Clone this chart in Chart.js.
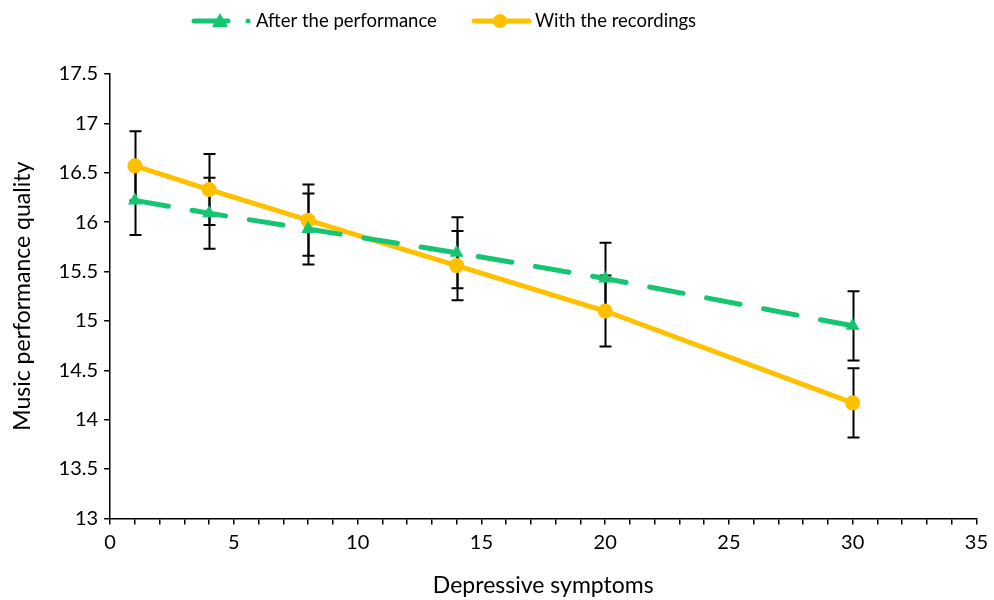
<!DOCTYPE html>
<html>
<head>
<meta charset="utf-8">
<script src="https://cdn.jsdelivr.net/npm/chart.js@4.4.1/dist/chart.umd.min.js"></script>
<style>
  html, body { margin: 0; padding: 0; background: #fff; }
  #wrap { width: 994px; height: 600px; position: relative; }
</style>
</head>
<body>
<div id="wrap"><canvas id="qualityChart" width="994" height="600"></canvas></div>
<script>
// values
var symptoms = [1, 4, 8, 14, 20, 30];
var afterPerformance = [16.22, 16.09, 15.93, 15.69, 15.43, 14.95];
var afterPerformanceErr = [0.35, 0.36, 0.36, 0.36, 0.36, 0.35];
var withRecordings = [16.57, 16.33, 16.02, 15.56, 15.10, 14.17];
var withRecordingsErr = [0.35, 0.36, 0.36, 0.35, 0.36, 0.35];
var seriesNames = ['After the performance', 'With the recordings'];

var GREEN = '#15C572';
var GOLD = '#FFC000';
var FONT = 'Lato, "Open Sans", sans-serif';

function toPoints(ys) {
    return symptoms.map(function (x, i) { return { x: x, y: ys[i] }; });
}

// error bars go under the markers, like the original
var errorBars = {
    id: 'errorBars',
    beforeDatasetsDraw: function (chart) {
        var ctx = chart.ctx;
        var xs = chart.scales.x, ys = chart.scales.y;
        ctx.save();
        ctx.strokeStyle = '#000';
        ctx.lineWidth = 2;
        chart.data.datasets.forEach(function (ds) {
            ds.data.forEach(function (p, i) {
                var px = Math.round(xs.getPixelForValue(p.x)) + 0.5;
                var top = ys.getPixelForValue(p.y + ds.errors[i]);
                var bot = ys.getPixelForValue(p.y - ds.errors[i]);
                ctx.beginPath();
                ctx.moveTo(px, top); ctx.lineTo(px, bot);
                ctx.moveTo(px - 6, top); ctx.lineTo(px + 6, top);
                ctx.moveTo(px - 6, bot); ctx.lineTo(px + 6, bot);
                ctx.stroke();
            });
        });
        ctx.restore();
    }
};

// legend drawn by hand: line sample with its marker
var lineLegend = {
    id: 'lineLegend',
    afterDraw: function (chart) {
        var ctx = chart.ctx;
        var y = 21;
        ctx.save();
        // green dashed sample
        ctx.strokeStyle = GREEN;
        ctx.lineWidth = 5;
        ctx.lineCap = 'round';
        ctx.beginPath(); ctx.moveTo(194, y); ctx.lineTo(228, y); ctx.stroke();
        ctx.beginPath(); ctx.arc(248, y, 2.5, 0, Math.PI * 2); ctx.fillStyle = GREEN; ctx.fill();
        ctx.beginPath();
        ctx.moveTo(220, y - 8); ctx.lineTo(228, y + 6); ctx.lineTo(212, y + 6); ctx.closePath();
        ctx.fill();
        // gold solid sample
        ctx.strokeStyle = GOLD;
        ctx.beginPath(); ctx.moveTo(474, y); ctx.lineTo(529, y); ctx.stroke();
        ctx.fillStyle = GOLD;
        ctx.beginPath(); ctx.arc(500, y, 7, 0, Math.PI * 2); ctx.fill();
        ctx.fillStyle = '#000';
        ctx.font = '18.5px ' + FONT;
        ctx.textBaseline = 'middle';
        ctx.fillText(seriesNames[0], 256, y);
        ctx.fillText(seriesNames[1], 535, y);
        ctx.restore();
    }
};

new Chart(document.getElementById('qualityChart'), {
    type: 'line',
    data: {
        datasets: [
            {
                label: seriesNames[0],
                data: toPoints(afterPerformance),
                errors: afterPerformanceErr,
                borderColor: GREEN,
                backgroundColor: GREEN,
                borderWidth: 5,
                borderDash: [34, 24],
                borderCapStyle: 'round',
                pointStyle: 'triangle',
                pointRadius: 8,
                pointBorderWidth: 0,
                tension: 0
            },
            {
                label: seriesNames[1],
                data: toPoints(withRecordings),
                errors: withRecordingsErr,
                borderColor: GOLD,
                backgroundColor: GOLD,
                borderWidth: 5,
                pointStyle: 'circle',
                pointRadius: 7.5,
                pointBorderWidth: 0,
                tension: 0
            }
        ]
    },
    options: {
        responsive: false,
        animation: false,
        layout: { padding: { top: 74, right: -3, left: 9, bottom: 1 } },
        plugins: { legend: { display: false }, tooltip: { enabled: false } },
        scales: {
            x: {
                type: 'linear',
                min: 0,
                max: 35,
                border: { color: '#000', width: 1.5 },
                grid: { drawOnChartArea: false, color: '#000', tickLength: 6, lineWidth: 1.5 },
                ticks: {
                    stepSize: 1,
                    autoSkip: false,
                    maxRotation: 0,
                    color: '#000',
                    font: { family: FONT, size: 20 },
                    padding: 6,
                    callback: function (v) { return v % 5 === 0 ? v : ''; }
                },
                title: {
                    display: true,
                    text: 'Depressive symptoms',
                    color: '#000',
                    font: { family: FONT, size: 23 },
                    padding: { top: 11, bottom: 0 }
                }
            },
            y: {
                min: 13,
                max: 17.5,
                border: { color: '#000', width: 1.5 },
                grid: { drawOnChartArea: false, color: '#000', tickLength: 6, lineWidth: 1.5 },
                ticks: {
                    stepSize: 0.5,
                    color: '#000',
                    font: { family: FONT, size: 20 },
                    padding: 6,
                    callback: function (v) { return String(v); }
                },
                title: {
                    display: true,
                    text: 'Music performance quality',
                    color: '#000',
                    font: { family: FONT, size: 23 },
                    padding: { top: 0, bottom: 16 }
                }
            }
        }
    },
    plugins: [errorBars, lineLegend]
});
</script>
</body>
</html>
